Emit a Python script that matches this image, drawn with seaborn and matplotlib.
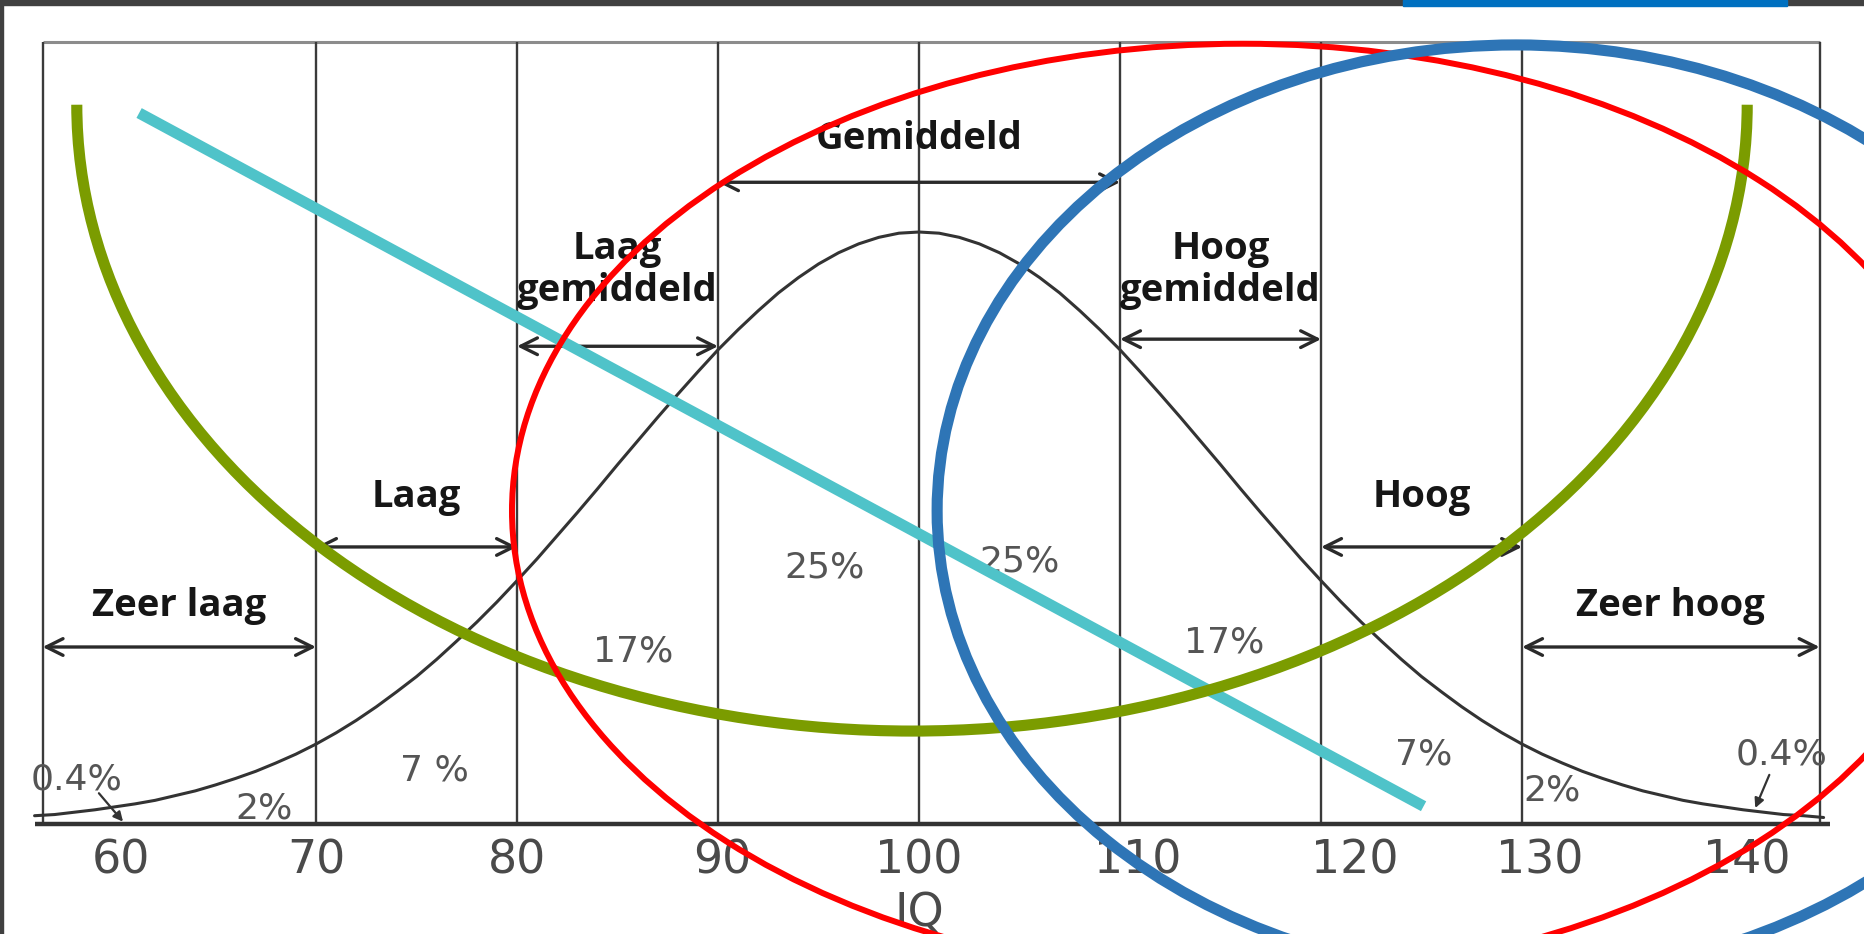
import numpy as np
import pandas as pd
import matplotlib
matplotlib.use("Agg")
import matplotlib.pyplot as plt
from matplotlib.patches import Arc, Ellipse, Rectangle
import seaborn as sns

# bell curve: height (peak = 100) at 0..45 IQ points from the mean
half_height = [100.0, 99.8, 99.1, 98.0, 96.5, 94.6, 92.3, 89.7, 86.7, 83.5,
               80.1, 76.4, 72.6, 68.7, 64.7, 60.7, 56.6, 52.6, 48.7, 44.8,
               41.1, 37.5, 34.1, 30.9, 27.8, 24.9, 22.3, 19.8, 17.5, 15.4,
               13.5, 11.8, 10.3, 8.9, 7.7, 6.6, 5.6, 4.8, 4.0, 3.4,
               2.9, 2.4, 2.0, 1.6, 1.4, 1.1]
iq = list(range(56, 146))
height = half_height[44:0:-1] + half_height[:46]

band_names = ["Zeer laag", "Laag", "Laag\ngemiddeld", "Gemiddeld",
              "Hoog\ngemiddeld", "Hoog", "Zeer hoog"]
band_lo = [56.4, 70, 80, 90, 110, 120, 130]
band_hi = [70, 80, 90, 110, 120, 130, 144.8]

grid_x = [56.4, 70, 80, 90, 100, 110, 120, 130, 144.8]

pct_text = ["0.4%", "2%", "7 %", "17%", "25%", "25%", "17%", "7%", "2%", "0.4%"]
pct_x = [58.1, 67.4, 75.9, 85.8, 95.3, 105.0, 115.2, 125.1, 131.5, 142.9]
pct_y = [7.6, 2.7, 9.1, 29.1, 43.4, 44.4, 30.7, 11.8, 5.6, 11.7]

tick_labels = ["60", "70", "80", "90", "100", "110", "120", "130", "140"]
tick_pos = [60.3, 70.0, 80.0, 90.2, 100.0, 110.9, 121.7, 130.9, 141.2]

# overlay shapes drawn on top of the scan
cyan_x = [61.2, 125.1]
cyan_y = [120.1, 3.0]

sns.set_style("white")

fig = plt.figure(figsize=(18.64, 9.34), dpi=100)
ax = fig.add_axes([0, 0, 1, 1])
ax.set_xlim(54.28, 147.01)
ax.set_ylim(-18.58, 139.19)
ax.axis("off")

# frame + grid
top = 132.1
ax.hlines(top, 56.4, 144.8, color="#8c8c8c", lw=2.2, zorder=1)
ax.vlines(grid_x, 0, top, color="#3a3a3a", lw=1.7, zorder=1)
ax.hlines(0, 56.0, 145.3, color="#333333", lw=3.2, zorder=2)

df = pd.DataFrame({"iq": iq, "h": height})
sns.lineplot(data=df, x="iq", y="h", color="#333333", lw=2.2, ax=ax, zorder=2)

# band labels and arrows
arrow_y = [29.9, 46.8, 80.7, 108.4, 81.9, 46.8, 29.9]
label_y = [36.8, 55.2, 93.6, 115.7, 93.6, 55.2, 36.8]
for name, lo, hi, ay, ly in zip(band_names, band_lo, band_hi, arrow_y, label_y):
    ax.annotate("", xy=(hi, ay), xytext=(lo, ay),
                arrowprops=dict(arrowstyle="<->", color="#2a2a2a", lw=2.4,
                                shrinkA=0, shrinkB=0, mutation_scale=30),
                zorder=3)
    ax.text((lo + hi) / 2, ly, name, ha="center", va="center",
            fontsize=27.5, fontweight="bold", family="Open Sans",
            color="#161616", linespacing=1.12, zorder=3)

for t, x, y in zip(pct_text, pct_x, pct_y):
    ax.text(x, y, t, ha="center", va="center", fontsize=26,
            color="#555555", zorder=3)

# little pointers for the 0.4% tails
ax.annotate("", xy=(60.4, 0.4), xytext=(59.2, 5.2),
            arrowprops=dict(arrowstyle="-|>", color="#333333", lw=1.6,
                            mutation_scale=14, shrinkA=0, shrinkB=0))
ax.annotate("", xy=(141.6, 2.7), xytext=(142.3, 8.3),
            arrowprops=dict(arrowstyle="-|>", color="#333333", lw=1.6,
                            mutation_scale=14, shrinkA=0, shrinkB=0))

for v, lab in zip(tick_pos, tick_labels):
    ax.text(v, -6.3, lab, ha="center", va="center", fontsize=33,
            color="#4a4a4a")
ax.text(100, -15.2, "IQ", ha="center", va="center", fontsize=33,
        color="#4a4a4a")

# overlays: cyan line, green half circle, red and blue ellipses
sns.lineplot(x=cyan_x, y=cyan_y, color="#4fc3c9", lw=8,
             solid_capstyle="butt", ax=ax, zorder=4)
ax.add_patch(Arc((99.65, 121.5), 83.1, 211.6, theta1=180, theta2=360,
                 color="#7b9c00", lw=8, zorder=5))
ax.add_patch(Ellipse((116.1, 52.9), 72.7, 157.8, fill=False,
                     edgecolor="#ff0000", lw=4.3, zorder=6))
ax.add_patch(Ellipse((129.7, 52.9), 57.6, 157.4, fill=False,
                     edgecolor="#2e75b6", lw=8, zorder=7))

# screenshot border bits
fig.patches.append(Rectangle((0, 1 - 5 / 934), 1, 5 / 934, transform=fig.transFigure,
                             color="#404040", zorder=10))
fig.patches.append(Rectangle((0, 0), 3 / 1864, 1, transform=fig.transFigure,
                             color="#404040", zorder=10))
fig.patches.append(Rectangle((1403 / 1864, 1 - 6 / 934), 384 / 1864, 6 / 934,
                             transform=fig.transFigure, color="#0070c0", zorder=11))

fig.savefig("out.png", dpi=100)
